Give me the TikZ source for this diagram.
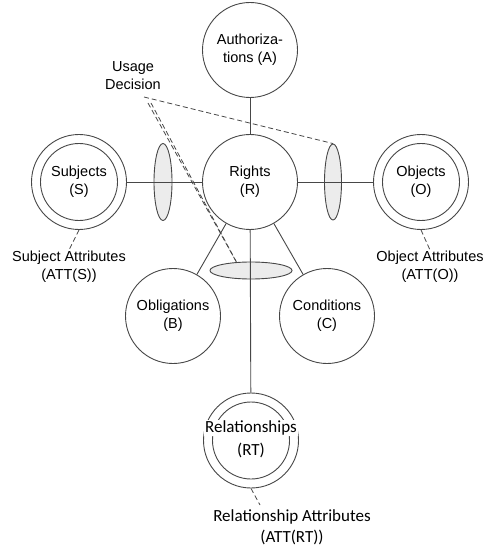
\documentclass[tikz,border=0pt]{standalone}
\usepackage{fontspec}
\setmainfont{Liberation Sans}
\newfontfamily\calib{Carlito}
\usetikzlibrary{shapes.geometric}
\begin{document}
\begin{tikzpicture}[x=1pt,y=-1pt,
  lc/.style={draw=black!72, line width=0.9pt},
  circ/.style={circle, lc, minimum size=95pt, inner sep=0pt, align=center, font=\fontsize{14.5}{18}\selectfont},
  incirc/.style={circle, lc, minimum size=77pt, inner sep=0pt, align=center, font=\fontsize{14.5}{18}\selectfont},
  lbl/.style={align=center, inner sep=1pt, font=\fontsize{14.5}{18}\selectfont},
  rlbl/.style={align=center, inner sep=1pt, font=\calib\fontsize{17}{21}\selectfont},
  ell/.style={ellipse, lc, fill=gray!15, inner sep=0pt},
  conn/.style={lc},
  dconn/.style={draw=black!72, line width=0.8pt, dash pattern=on 5pt off 3pt}
]
\useasboundingbox (0,0) rectangle (484,553);

% ellipses
\node[ell, minimum width=18pt, minimum height=77pt] (eL) at (163,182) {};
\node[ell, minimum width=17pt, minimum height=76pt] (eR) at (333,182) {};
\node[ell, minimum width=82pt, minimum height=17pt] (eB) at (251,270.5) {};

% main circles
\node[circ] (A) at (250,50) {Authoriza-\\tions (A)};
\node[circ] (R) at (250,182) {Rights\\(R)};
\node[circ] (S) at (79,182) {};
\node[incirc] (Si) at (79,182) {Subjects\\(S)};
\node[circ] (O) at (421,182) {};
\node[incirc] (Oi) at (421,182) {Objects\\(O)};
\node[circ] (B) at (173,316) {Obligations\\(B)};
\node[circ] (C) at (327,316) {Conditions\\(C)};
\node[circ] (RT) at (251,440.5) {};
\node[incirc] (RTi) at (251,440.5) {};
\node[rlbl, fill=white] (RTt) at (251,428) {Relationships};
\node[rlbl] (RTb) at (251,450) {(RT)};

% labels
\node[lbl] (UD) at (133,76) {Usage\\Decision};
\node[lbl] (SA) at (69,267) {Subject Attributes\\(ATT(S))};
\node[lbl] (OA) at (430,267) {Object Attributes\\(ATT(O))};
\node[rlbl] (RA) at (292,527) {Relationship Attributes\\(ATT(RT))};

% connectors
\draw[conn] (A) -- (R);
\draw[conn] (S) -- (R);
\draw[conn] (R) -- (O);
\draw[conn] (R) -- (B);
\draw[conn] (R) -- (C);
\draw[conn] (R) -- (RT);

% dashed connectors
\coordinate (ud1) at (144,97);
\coordinate (ud2) at (148,103);
\coordinate (ud3) at (151,103);
\coordinate (ra1) at (260,505);
\draw[dconn] (ud1) -- (eR.north);
\draw[dconn] (ud2) -- (eB.150);
\draw[dconn] (ud3) -- (eB.150);
\draw[dconn] (S.south) -- (SA.north);
\draw[dconn] (O.south) -- (OA.north);
\draw[dconn] (RT.south) -- (ra1);
\end{tikzpicture}
\end{document}
